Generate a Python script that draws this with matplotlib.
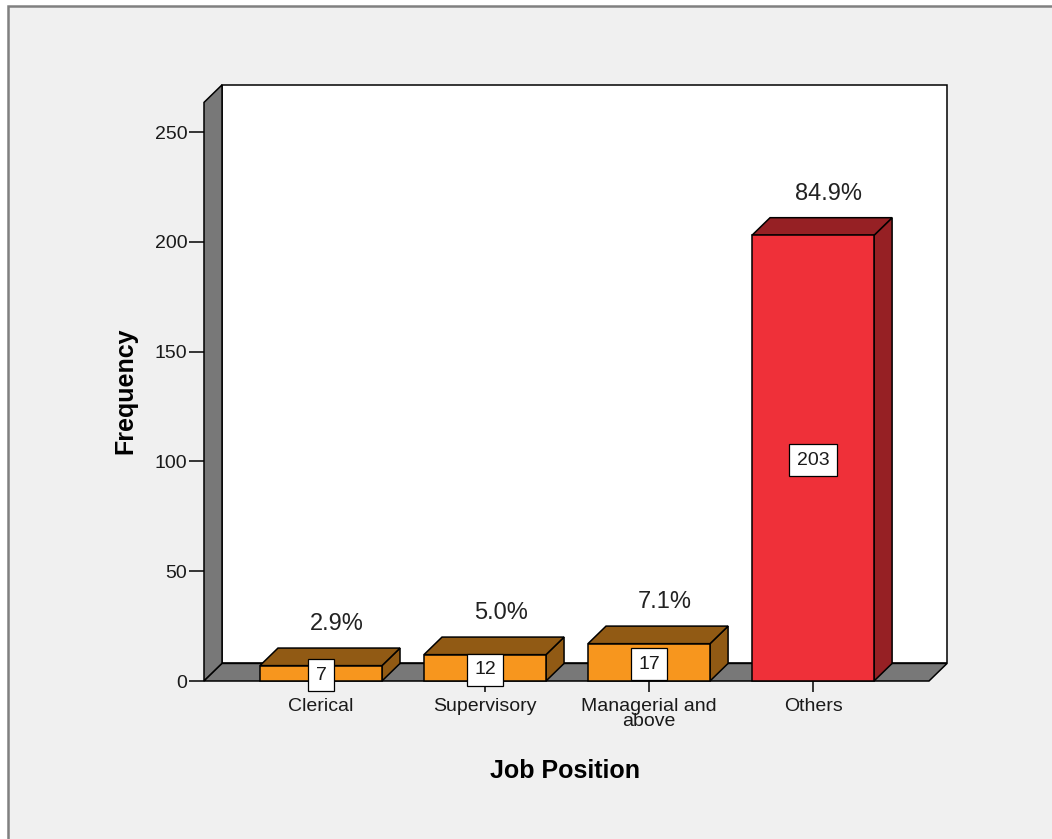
import matplotlib
matplotlib.use("Agg")
import matplotlib.pyplot as plt
from matplotlib.patches import Polygon, Rectangle

plt.rcParams["font.family"] = ["Liberation Sans", "DejaVu Sans"]

# Job position frequencies
categories = ["Clerical", "Supervisory", "Managerial and\nabove", "Others"]
counts = [7, 12, 17, 203]
percents = ["2.9%", "5.0%", "7.1%", "84.9%"]
y_ticks = [0, 50, 100, 150, 200, 250]

bar_front = ["#F7961E", "#F7961E", "#F7961E", "#EF3039"]
bar_shade = ["#915A14", "#915A14", "#915A14", "#962024"]

fig = plt.figure(figsize=(10.52, 8.39), dpi=100, facecolor="white")
# panel background with grey frame on left / top
fig.patches.append(Rectangle((8 / 1052, -0.05), 1.1, 1 - 6 / 839 + 0.05,
                             transform=fig.transFigure, facecolor="#F0F0F0",
                             edgecolor="#808080", linewidth=1.8, zorder=-10))

ax = fig.add_axes([204 / 1052, 158 / 839, 725 / 1052, 581 / 839])
ax.set_facecolor("none")
for s in ax.spines.values():
    s.set_visible(False)

x0, x1 = -0.713, 3.707
ax.set_xlim(x0, x1)
ax.set_ylim(0, 264.6)
wall_top = 263.5

dx, dy = 0.11, 8.0   # depth offset of the 3D box
w = 0.744
edge = dict(edgecolor="black", linewidth=1.1, clip_on=False)

# back wall, left wall, floor
ax.add_patch(Polygon([(x0 + dx, dy), (x1 + dx, dy), (x1 + dx, wall_top + dy), (x0 + dx, wall_top + dy)],
                     facecolor="white", zorder=1, **edge))
ax.add_patch(Polygon([(x0, 0), (x0 + dx, dy), (x0 + dx, wall_top + dy), (x0, wall_top)],
                     facecolor="#787878", zorder=1.2, **edge))
ax.add_patch(Polygon([(x0, 0), (x1, 0), (x1 + dx, dy), (x0 + dx, dy)],
                     facecolor="#787878", zorder=1.2, **edge))

for i, (v, fc, sc) in enumerate(zip(counts, bar_front, bar_shade)):
    l, r = i - w / 2, i + w / 2
    ax.add_patch(Polygon([(r, 0), (r + dx, dy), (r + dx, v + dy), (r, v)],
                         facecolor=sc, zorder=2, **edge))
    ax.add_patch(Polygon([(l, v), (r, v), (r + dx, v + dy), (l + dx, v + dy)],
                         facecolor=sc, zorder=2, **edge))
    ax.add_patch(Rectangle((l, 0), w, v, facecolor=fc, zorder=2.1, **edge))
    ax.text(i, v / 2, str(v), ha="center", va="center_baseline", fontsize=14,
            zorder=5, clip_on=False, color="#1a1a1a",
            bbox=dict(boxstyle="square,pad=0.38", facecolor="white",
                      edgecolor="black", linewidth=0.9))
    ax.annotate(percents[i], xy=(i + dx / 2 + 0.04, v + dy), xytext=(0, 17),
                textcoords="offset points", ha="center", va="center",
                fontsize=17, color="#222222", annotation_clip=False)

ax.set_yticks(y_ticks)
ax.set_xticks(range(len(categories)))
ax.set_xticklabels(categories, linespacing=0.85)
ax.tick_params(axis="y", direction="out", length=11, width=1.1, pad=1,
               labelsize=14, labelcolor="#1a1a1a")
ax.tick_params(axis="x", direction="out", length=8, width=1.1, pad=4,
               labelsize=14, labelcolor="#1a1a1a")

ax.set_ylabel("Frequency", fontsize=18, fontweight="bold", va="center")
ax.yaxis.set_label_coords(-0.109, 0.5)
ax.set_xlabel("Job Position", fontsize=18, fontweight="bold", va="center")
ax.xaxis.set_label_coords(0.498, -0.155)

fig.savefig("out.png", dpi=100, facecolor=fig.get_facecolor())
